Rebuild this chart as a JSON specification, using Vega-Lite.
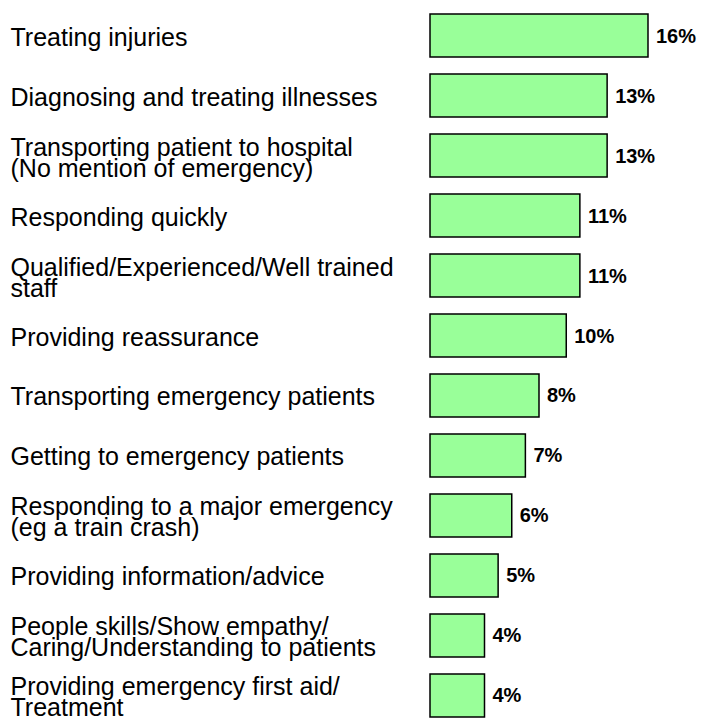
{
  "$schema": "https://vega.github.io/schema/vega-lite/v6.json",
  "autosize": {"type": "none"},
  "padding": {"left": 430, "top": 14, "right": 55, "bottom": 1},
  "width": 218,
  "height": 703,
  "background": "white",
  "config": {"view": {"stroke": null}, "font": "Liberation Sans"},
  "data": {"values": [
    {"label": "Treating injuries", "value": 0.16},
    {"label": "Diagnosing and treating illnesses", "value": 0.13},
    {"label": "Transporting patient to hospital|(No mention of emergency)", "value": 0.13},
    {"label": "Responding quickly", "value": 0.11},
    {"label": "Qualified/Experienced/Well trained|staff", "value": 0.11},
    {"label": "Providing reassurance", "value": 0.10},
    {"label": "Transporting emergency patients", "value": 0.08},
    {"label": "Getting to emergency patients", "value": 0.07},
    {"label": "Responding to a major emergency|(eg a train crash)", "value": 0.06},
    {"label": "Providing information/advice", "value": 0.05},
    {"label": "People skills/Show empathy/|Caring/Understanding to patients", "value": 0.04},
    {"label": "Providing emergency first aid/|Treatment", "value": 0.04}
  ]},
  "encoding": {
    "y": {
      "field": "label", "type": "nominal", "sort": null,
      "scale": {"paddingInner": 0.283, "paddingOuter": 0},
      "axis": {
        "title": null, "domain": false, "ticks": false, "tickSize": 0,
        "labelAlign": "left", "labelPadding": 420, "labelLimit": 0,
        "labelFontSize": 25, "labelColor": "black", "labelFont": "Liberation Sans",
        "labelLineHeight": 21,
        "labelOffset": {"condition": {"test": "indexof(datum.value, '|') >= 0", "value": -8}, "value": 2},
        "labelExpr": "split(datum.label, '|')"
      }
    },
    "x": {
      "field": "value", "type": "quantitative",
      "scale": {"domain": [0, 0.16], "nice": false},
      "axis": null
    }
  },
  "layer": [
    {"mark": {"type": "bar", "color": "#99FF99", "stroke": "black", "strokeWidth": 1.5}},
    {"mark": {"type": "text", "align": "left", "baseline": "middle", "dx": 8, "dy": 1, "fontSize": 20, "fontWeight": "bold", "color": "black"},
     "encoding": {"text": {"field": "value", "type": "quantitative", "format": ".0%"}}}
  ]
}
